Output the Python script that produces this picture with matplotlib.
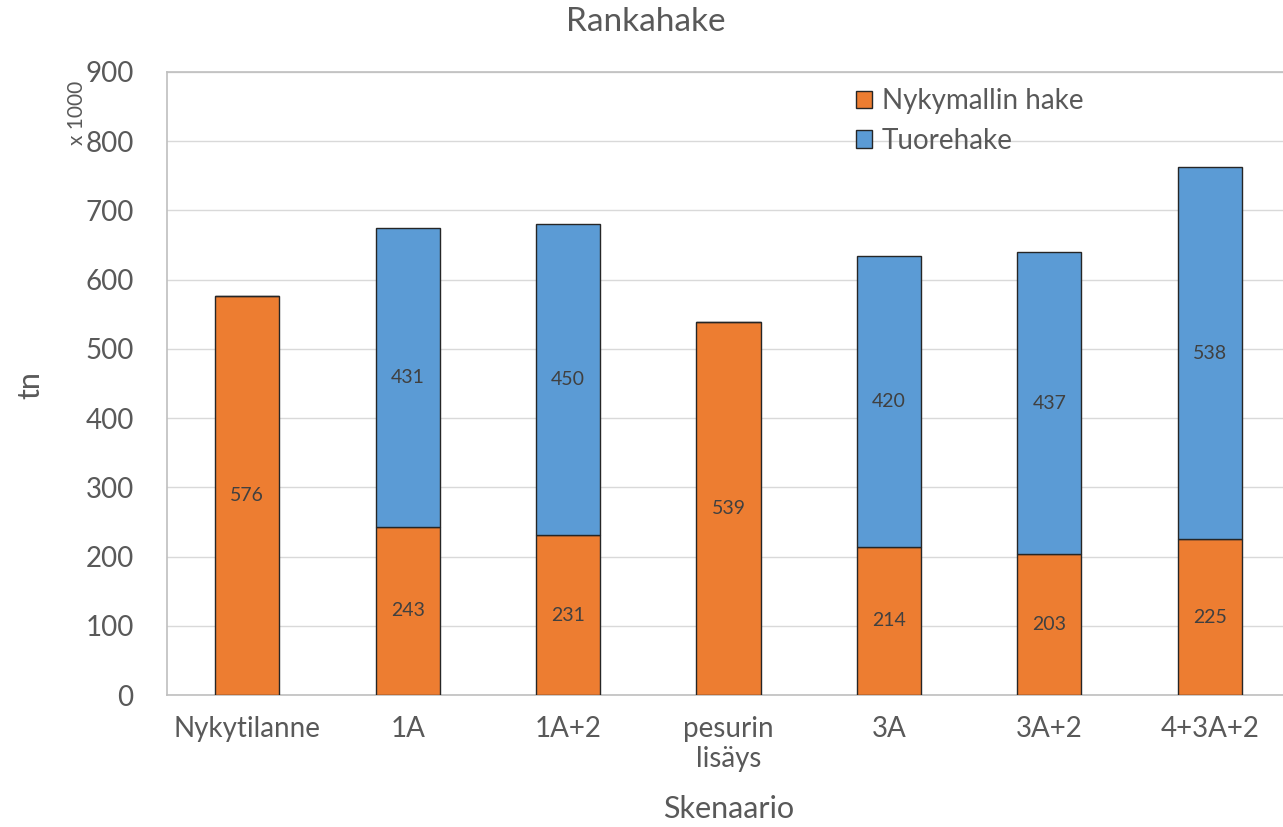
import matplotlib
matplotlib.use("Agg")
import matplotlib.pyplot as plt
from matplotlib.patches import Patch

categories = ["Nykytilanne", "1A", "1A+2", "pesurin\nlisäys", "3A", "3A+2", "4+3A+2"]
nykymallin = [576, 243, 231, 539, 214, 203, 225]
tuore = [0, 431, 450, 0, 420, 437, 538]
yticks = [0, 100, 200, 300, 400, 500, 600, 700, 800, 900]

plt.rcParams['font.family'] = ['Lato', 'DejaVu Sans']
gray = '#595959'
orange = '#ED7D31'
blue = '#5B9BD5'

fig = plt.figure(figsize=(12.83, 8.27), dpi=100)
ax = fig.add_axes([167/1283, 1-695/827, (1290-167)/1283, (695-72)/827])

x = list(range(len(categories)))
w = 0.4
ax.bar(x, nykymallin, width=w, color=orange, edgecolor='#262626', linewidth=1, zorder=3)
ax.bar(x, tuore, width=w, bottom=nykymallin, color=blue, edgecolor='#262626', linewidth=1, zorder=3)

for i in x:
    ax.text(i, nykymallin[i] / 2, str(nykymallin[i]), ha='center', va='center',
            fontsize=14, color='#404040', zorder=4)
    if tuore[i] > 0:
        ax.text(i, nykymallin[i] + tuore[i] / 2, str(tuore[i]), ha='center', va='center',
                fontsize=14, color='#404040', zorder=4)

ax.set_xlim(-0.5, len(categories) - 0.5)
ax.set_ylim(0, 900)
ax.set_yticks(yticks)
ax.set_yticklabels([str(v) for v in yticks])
ax.set_xticks(x)
ax.set_xticklabels(categories)
ax.tick_params(axis='both', length=0, labelsize=20, labelcolor=gray)
ax.tick_params(axis='x', pad=15)
ax.tick_params(axis='y', pad=24)
ax.grid(axis='y', color='#d9d9d9', linewidth=1, zorder=0)
for s in ax.spines.values():
    s.set_color('#bfbfbf')
    s.set_linewidth(1.2)

fig.text(646/1283, 1-22/827, "Rankahake", ha='center', va='center', fontsize=24, color=gray)
fig.text(30/1283, 1-385/827, "tn", ha='center', va='center', rotation=90, fontsize=22, color=gray)
fig.text(729/1283, 1-809/827, "Skenaario", ha='center', va='center', fontsize=22, color=gray)
fig.text(77/1283, 1-113/827, "x 1000", ha='center', va='center', rotation=90, fontsize=15, color=gray)

handles = [Patch(facecolor=orange, edgecolor='#262626', label='Nykymallin hake'),
           Patch(facecolor=blue, edgecolor='#262626', label='Tuorehake')]
leg = ax.legend(handles=handles, loc='upper left',
                bbox_to_anchor=(856/1283, 1-88/827), bbox_transform=fig.transFigure,
                frameon=False, fontsize=20, handlelength=0.58, handleheight=0.58,
                handletextpad=0.36, labelspacing=0.5, borderaxespad=0, borderpad=0)
for t in leg.get_texts():
    t.set_color(gray)

fig.savefig("out.png", dpi=100)
